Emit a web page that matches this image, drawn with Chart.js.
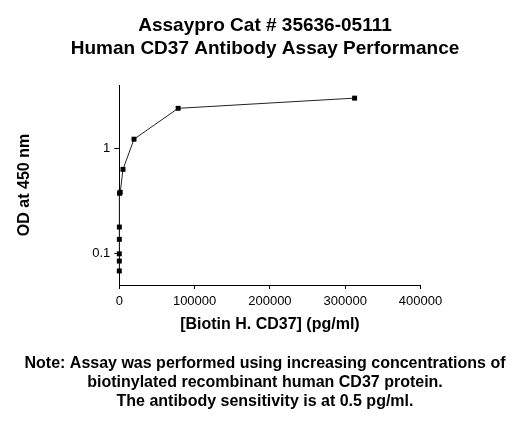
<!DOCTYPE html>
<html>
<head>
<meta charset="utf-8">
<title>Human CD37 Antibody Assay Performance</title>
<script src="https://cdn.jsdelivr.net/npm/chart.js@4.4.1/dist/chart.umd.min.js"></script>
<style>
	html, body { margin: 0; padding: 0; background: #fff; }
	canvas { display: block; }
</style>
</head>
<body>
<canvas id="assayChart" width="530" height="425"></canvas>
<script>
// Standard curve, 4-fold dilution series (pg/ml) and OD readings at 450 nm
const concentrations = [0.3, 1.2, 4.8, 19, 76, 305, 1221, 4883, 19531, 78125, 312500];
const odValues = [0.068, 0.0845, 0.099, 0.136, 0.178, 0.373, 0.381, 0.63, 1.22, 2.4, 3.0];
const xTicks = [0, 100000, 200000, 300000, 400000];
const yTicks = [0.1, 1];

const titleLines = ["Assaypro Cat # 35636-05111", "Human CD37 Antibody Assay Performance"];
const noteLines = [
	"Note: Assay was performed using increasing concentrations of",
	"biotinylated recombinant human CD37 protein.",
	"The antibody sensitivity is at 0.5 pg/ml."
];

const FONT = "'Liberation Sans', Arial, Helvetica, sans-serif";
Chart.defaults.font.family = FONT;
Chart.defaults.color = "#000";

let assayChart = null;

function drawAssayChart() {
	const ctx = document.getElementById("assayChart").getContext("2d");
	if (assayChart) {
		assayChart.destroy();
	}
	const points = concentrations.map((c, i) => ({ x: c, y: odValues[i] }));
	assayChart = new Chart(ctx, {
		type: "line",
		data: {
			datasets: [{
				data: points,
				borderColor: "#222",
				borderWidth: 1,
				pointStyle: "rect",
				pointRadius: 3.5,
				pointBackgroundColor: "#000",
				pointBorderColor: "#000",
				pointBorderWidth: 0,
				fill: false,
				tension: 0,
				clip: false
			}]
		},
		options: {
			responsive: false,
			animation: false,
			plugins: {
				legend: { display: false },
				tooltip: { enabled: false },
				title: {
					display: true,
					text: titleLines,
					font: { size: 19, weight: "bold", lineHeight: 23 / 19 },
					padding: { top: 14, bottom: 25 }
				},
				subtitle: {
					display: true,
					position: "bottom",
					text: noteLines,
					font: { size: 16, weight: "bold", lineHeight: 19 / 16 },
					padding: { top: 0, bottom: 14.2 }
				}
			},
			scales: {
				x: {
					type: "linear",
					min: 0,
					max: 400000,
					afterBuildTicks: scale => { scale.ticks = xTicks.map(v => ({ value: v })); },
					afterFit: scale => { scale.height = 68.8; },
					grid: { drawOnChartArea: false, drawTicks: true, tickLength: 4, color: "#000" },
					border: { display: true, color: "#000", width: 1 },
					ticks: { font: { size: 13 }, padding: 5, maxRotation: 0, callback: v => String(v) },
					title: {
						display: true,
						text: "[Biotin H. CD37] (pg/ml)",
						font: { size: 16, weight: "bold" },
						padding: { top: 0, bottom: 19.2 }
					}
				},
				y: {
					type: "logarithmic",
					min: 0.05,
					max: 4,
					afterBuildTicks: scale => { scale.ticks = yTicks.map(v => ({ value: v })); },
					afterFit: scale => { scale.width = 119.3; },
					grid: { drawOnChartArea: false, drawTicks: true, tickLength: 5, color: "#000" },
					border: { display: true, color: "#000", width: 1 },
					ticks: { font: { size: 13 }, padding: 4, callback: v => String(v) },
					title: {
						display: true,
						text: "OD at 450 nm",
						font: { size: 16, weight: "bold" },
						padding: { top: 15.4, bottom: 0 }
					}
				},
				// empty right-hand axis, only reserves the white space right of the plot
				spacer: {
					type: "linear",
					position: "right",
					afterFit: scale => { scale.width = 109.5; },
					grid: { display: false },
					border: { display: false },
					ticks: { display: false }
				}
			}
		}
	});
}

drawAssayChart();
</script>
</body>
</html>
